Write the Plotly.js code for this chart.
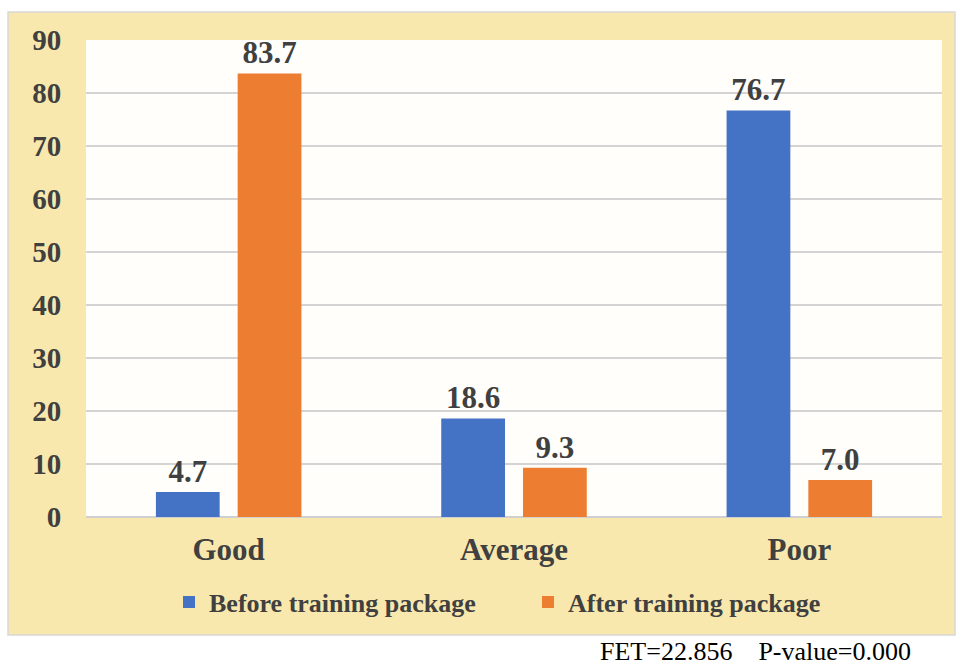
<!DOCTYPE html>
<html><head><meta charset="utf-8">
<script src="https://cdn.plot.ly/plotly-3.0.1.min.js"></script>
<style>body{margin:0;background:#fff}#c{width:961px;height:664px}</style>
</head><body><div id="c"></div>
<script>
const categories = ["Good", "Average", "Poor"];
const beforeValues = [4.7, 18.6, 76.7];
const afterValues = [83.7, 9.3, 7.0];
const seriesNames = ["Before training package", "After training package"];
const yTicks = [0, 10, 20, 30, 40, 50, 60, 70, 80, 90];
const note = "FET=22.856\u00a0\u00a0\u00a0\u00a0P-value=0.000";

const W = 961, H = 664;
const m = {l: 86, r: 19, t: 40, b: 147};
const pw = W - m.l - m.r, ph = H - m.t - m.b;
const px = v => (v - m.l) / pw;
const py = v => (H - m.b - v) / ph;

const font = "Liberation Serif";
const txt = "#404040";

function bar(name, vals, color) {
  return {
    type: "bar", name: name, x: categories, y: vals,
    marker: {color: color},
    text: vals.map(v => v.toFixed(1)), textposition: "outside",
    textfont: {family: font, size: 31, color: txt, weight: "bold"},
    cliponaxis: false, hoverinfo: "skip"
  };
}

const data = [bar(seriesNames[0], beforeValues, "#4472C4"), bar(seriesNames[1], afterValues, "#ED7D31")];

const layout = {
  width: W, height: H, margin: m,
  font: {family: font},
  paper_bgcolor: "#ffffff", plot_bgcolor: "rgba(0,0,0,0)",
  bargap: 0.427, bargroupgap: 0.22,
  showlegend: true,
  legend: {orientation: "h", x: px(169), xanchor: "left", y: py(602), yanchor: "middle",
    font: {family: font, size: 26, color: txt, weight: "bold"}, bgcolor: "rgba(0,0,0,0)",
    itemwidth: 30, traceorder: "normal", entrywidth: 314, entrywidthmode: "pixels"},
  xaxis: {tickfont: {family: font, size: 31, color: txt, weight: "bold"}, showline: false,
    ticks: "outside", ticklen: 5, tickcolor: "rgba(0,0,0,0)", fixedrange: true},
  yaxis: {range: [0, 90], tickvals: yTicks, tickfont: {family: font, size: 29, color: txt, weight: "bold"},
    showgrid: true, gridcolor: "#d4d4d4", gridwidth: 2, zeroline: true, zerolinecolor: "#d0d0d0", zerolinewidth: 2,
    showline: false, ticks: "outside", ticklen: 18, tickcolor: "rgba(0,0,0,0)", fixedrange: true},
  shapes: [
    {type: "rect", xref: "paper", yref: "paper", x0: px(8), x1: px(955), y0: py(635), y1: py(12),
      fillcolor: "#f9e8ad", line: {color: "#d8d8d8", width: 1.5}, layer: "below"},
    {type: "rect", xref: "paper", yref: "paper", x0: 0, x1: 1, y0: 0, y1: 1,
      fillcolor: "#fffefb", line: {width: 0}, layer: "below"}
  ],
  annotations: [
    {text: note, xref: "paper", yref: "paper", x: px(912), xanchor: "right", y: py(651), yanchor: "middle",
      height: 26, valign: "middle", borderpad: 0,
      showarrow: false, font: {family: font, size: 26, color: "#000"}}
  ]
};

Plotly.newPlot("c", data, layout, {displayModeBar: false, staticPlot: true});
</script></body></html>
